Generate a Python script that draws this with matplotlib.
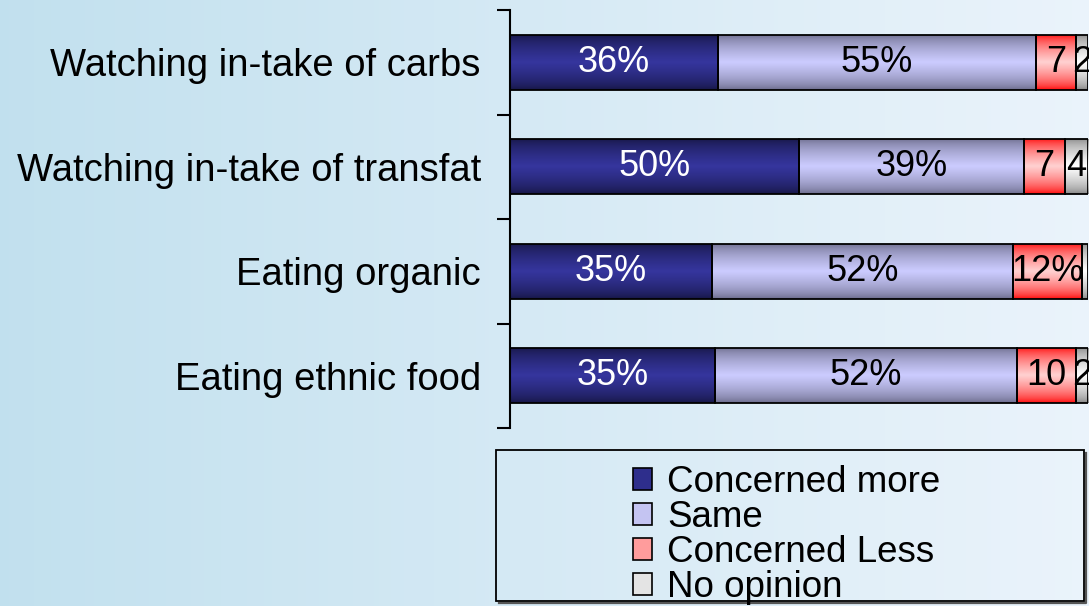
import numpy as np
import matplotlib
matplotlib.use("Agg")
import matplotlib.pyplot as plt
from matplotlib.patches import Patch, Rectangle
from matplotlib.lines import Line2D

categories = ["Watching in-take of carbs", "Watching in-take of transfat",
              "Eating organic", "Eating ethnic food"]
series_names = ["Concerned more", "Same", "Concerned Less", "No opinion"]
concerned_more = [36, 50, 35, 35.4]
same = [55, 39, 52, 52.4]
concerned_less = [7, 7, 12, 10.1]
no_opinion = [2, 4, 1, 2.1]

# (edge colour, centre colour) for the vertical shading of each series
shades = [((0.08, 0.08, 0.25), (0.21, 0.21, 0.62)),
          ((0.40, 0.40, 0.52), (0.80, 0.80, 1.00)),
          ((1.00, 0.00, 0.00), (1.00, 0.82, 0.82)),
          ((0.50, 0.50, 0.50), (1.00, 1.00, 1.00))]
legend_colors = ["#2e2e8c", "#c4c4f2", "#ff9c9c", "#e4e4e4"]
text_colors = ["white", "black", "black", "black"]

plt.rcParams["font.family"] = ["Liberation Sans", "DejaVu Sans"]

W, H = 1089, 606
fig = plt.figure(figsize=(W / 100, H / 100), dpi=100)

# background gradient
bg = fig.add_axes([0, 0, 1, 1], zorder=0)
bg.axis("off")
left_c = np.array([0.76, 0.88, 0.935])
right_c = np.array([0.92, 0.955, 0.985])
t = np.linspace(0, 1, 256)
grad = left_c + (right_c - left_c) * t[:, None]
bg.imshow(grad[None, :, :], aspect="auto", extent=(0, 1, 0, 1))
bg.set_xlim(0, 1)
bg.set_ylim(0, 1)

ax = fig.add_axes([510 / W, 1 - 428 / H, 578 / W, 418 / H], zorder=1)
ax.patch.set_alpha(0)

def shade_img(edge, centre, n=80):
    s = 1 - np.abs(np.linspace(-1, 1, n))
    s = s ** 0.6
    edge = np.array(edge)
    centre = np.array(centre)
    rgb = edge + (centre - edge) * s[:, None]
    return rgb[:, None, :]

y = np.arange(len(categories))
data = [concerned_more, same, concerned_less, no_opinion]
left = np.zeros(len(categories))
for k, vals in enumerate(data):
    bars = ax.barh(y, vals, left=left, height=0.53, facecolor="none",
                   edgecolor="black", linewidth=1.3, zorder=3)
    img = shade_img(*shades[k])
    for bar, v in zip(bars, vals):
        x0, y0 = bar.get_x(), bar.get_y()
        w, h = bar.get_width(), bar.get_height()
        im = ax.imshow(img, extent=(x0, x0 + w, y0, y0 + h), aspect="auto",
                       interpolation="bilinear", zorder=2)
        im.set_clip_path(bar)
        if v < 1.5:
            continue  # segment too thin, Excel shows nothing
        label = f"{v:.0f}%" if v >= 11 else f"{v:.0f}"
        txt = ax.text(x0 + w / 2, y0 + h / 2, label, ha="center", va="center",
                      fontsize=26, color=text_colors[k], zorder=4)
        txt.set_clip_path(bar)
    left += np.array(vals)

ax.set_xlim(0, 100)
ax.set_ylim(len(categories) - 0.5, -0.5)
ax.set_yticks(np.arange(len(categories) + 1) - 0.5)
ax.set_yticklabels([])
ax.set_yticks(y, minor=True)
ax.set_yticklabels(categories, minor=True, fontsize=27.5)
ax.tick_params(axis="y", which="major", length=9.5, width=1.5, direction="out")
ax.tick_params(axis="y", which="minor", length=0, pad=21)
ax.xaxis.set_visible(False)
for side in ["top", "right", "bottom"]:
    ax.spines[side].set_visible(False)
ax.spines["left"].set_linewidth(1.5)

# legend box with a small drop shadow
bx0, by0, bx1, by1 = 496, 450, 1084, 601
fig.add_artist(Line2D([(bx0 + 3) / W, (bx1 + 2) / W, (bx1 + 2) / W],
                      [1 - (by1 + 2) / H, 1 - (by1 + 2) / H, 1 - (by0 + 3) / H],
                      transform=fig.transFigure, color="#555555", lw=1.6, zorder=5))
fig.add_artist(Rectangle((bx0 / W, 1 - by1 / H), (bx1 - bx0) / W, (by1 - by0) / H,
                         transform=fig.transFigure, fill=False, edgecolor="black",
                         lw=1.3, zorder=5))

handles = [Patch(facecolor=c, edgecolor="black", linewidth=1.2) for c in legend_colors]
fig.legend(handles, series_names, loc="upper left",
           bbox_to_anchor=(633 / W, 1 - 465 / H), frameon=False, fontsize=26.5,
           borderpad=0, borderaxespad=0, handlelength=0.52, handleheight=0.52,
           handletextpad=0.4, labelspacing=0.0)

fig.savefig("out.png", dpi=100)
